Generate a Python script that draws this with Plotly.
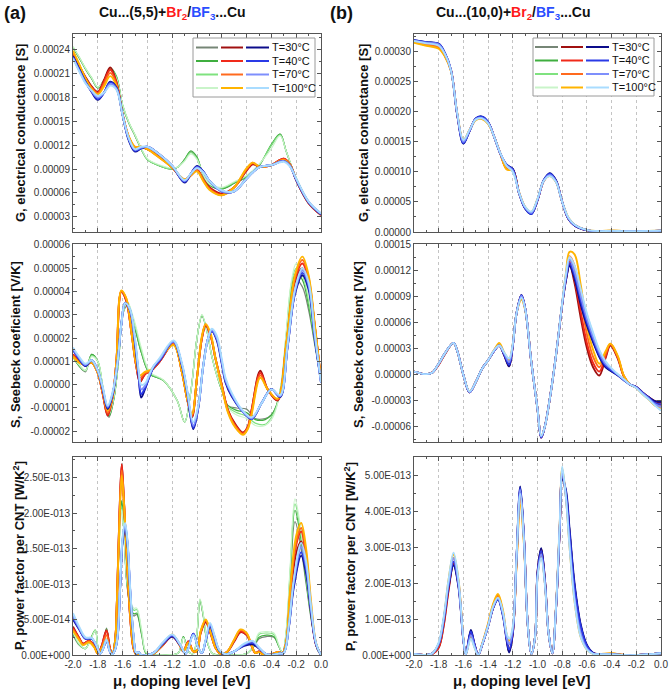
import plotly.graph_objects as go

# ---------------- common ----------------
TEMPS = ["T=30°C", "T=40°C", "T=70°C", "T=100°C"]
GREENS = ["#768676", "#3fae3f", "#7fe27f", "#c9f4c9"]
REDS = ["#a01010", "#f02a1a", "#ff6a1e", "#ffb400"]
BLUES = ["#0c0c8a", "#2a3ae6", "#7e8ffc", "#a9dcff"]

X_TICKS = [-2.0, -1.8, -1.6, -1.4, -1.2, -1.0, -0.8, -0.6, -0.4, -0.2, 0.0]
X_TICK_TEXT = ["-2.0", "-1.8", "-1.6", "-1.4", "-1.2", "-1.0", "-0.8", "-0.6", "-0.4", "-0.2", "0.0"]

# ---------------- panel (a): G, units 1e-5 S ----------------
aG_x = [-2.0,-1.95,-1.9,-1.85,-1.8,-1.75,-1.7,-1.65,-1.6,-1.55,-1.5,-1.45,-1.4,-1.3,-1.2,-1.1,-1.05,-1.0,-0.95,-0.9,-0.8,-0.7,-0.6,-0.55,-0.5,-0.45,-0.4,-0.3,-0.25,-0.2,-0.1,0.0]
aG_red = [
 [23.5,22.0,20.6,19.4,18.7,20.2,21.8,20.0,15.9,13.0,11.7,11.7,11.5,10.5,9.2,7.6,8.2,8.9,7.7,6.7,5.9,6.7,8.8,9.6,9.3,9.3,9.5,10.3,9.6,7.6,4.7,3.2],
 [23.6,22.0,20.5,19.3,18.6,20.0,21.5,19.9,15.9,13.0,11.7,11.7,11.5,10.5,9.2,7.6,8.2,8.9,7.7,6.6,5.8,6.7,8.9,9.7,9.3,9.3,9.5,10.3,9.6,7.6,4.7,3.2],
 [23.7,22.1,20.4,19.2,18.5,19.7,21.1,19.7,15.9,13.0,11.8,11.8,11.5,10.4,9.2,7.7,8.2,8.8,7.6,6.5,5.7,6.7,9.0,9.8,9.3,9.3,9.5,10.2,9.6,7.7,4.8,3.3],
 [23.9,22.2,20.4,19.1,18.4,19.4,20.7,19.5,15.9,13.1,11.8,11.8,11.5,10.4,9.2,7.7,8.2,8.7,7.5,6.4,5.7,6.7,9.1,9.8,9.3,9.3,9.5,10.1,9.5,7.7,4.8,3.3]]
aG_blue = [
 [23.2,21.6,20.0,18.7,17.7,18.6,20.0,19.3,15.8,12.6,11.2,11.6,11.8,10.8,9.4,7.3,8.4,9.4,8.7,7.5,6.2,6.2,7.8,8.6,9.2,9.4,9.5,10.0,9.4,7.6,4.8,3.3],
 [23.1,21.5,20.0,18.8,17.8,18.6,19.9,19.2,15.8,12.7,11.3,11.6,11.8,10.8,9.4,7.4,8.4,9.3,8.7,7.5,6.2,6.2,7.8,8.6,9.2,9.4,9.5,10.0,9.4,7.7,4.8,3.3],
 [23.0,21.4,19.9,18.8,18.0,18.6,19.7,19.1,15.8,12.8,11.4,11.7,11.8,10.8,9.4,7.5,8.4,9.2,8.6,7.5,6.2,6.2,7.8,8.6,9.2,9.4,9.5,10.0,9.4,7.7,4.9,3.4],
 [22.9,21.3,19.8,18.9,18.2,18.6,19.5,19.0,15.8,12.9,11.5,11.8,11.8,10.8,9.4,7.6,8.4,9.1,8.6,7.5,6.3,6.2,7.8,8.6,9.2,9.4,9.5,9.9,9.3,7.8,4.9,3.4]]
aG_gx = [-2.0,-1.95,-1.9,-1.85,-1.8,-1.75,-1.7,-1.65,-1.6,-1.55,-1.5,-1.45,-1.4,-1.3,-1.2,-1.15,-1.1,-1.05,-1.0,-0.95,-0.9,-0.8,-0.7,-0.6,-0.5,-0.4,-0.33,-0.28,-0.2,-0.1,0.0]
aG_green = [
 [24.3,23.0,21.6,20.4,19.2,20.2,21.6,20.6,17.0,14.8,13.2,11.5,10.2,9.4,9.0,9.3,10.2,11.2,10.4,8.2,7.0,6.5,7.2,8.0,9.4,12.0,13.4,11.2,7.8,4.8,3.3],
 [24.3,23.0,21.6,20.4,19.2,20.2,21.7,20.7,17.0,14.8,13.2,11.5,10.2,9.4,9.0,9.3,10.2,11.3,10.5,8.2,7.0,6.5,7.2,8.0,9.4,12.1,13.4,11.2,7.8,4.8,3.3],
 [24.4,23.1,21.7,20.5,19.3,20.2,21.6,20.6,17.1,14.9,13.3,11.6,10.2,9.4,9.0,9.3,10.1,11.1,10.3,8.3,7.1,6.6,7.3,8.1,9.5,12.0,13.3,11.2,7.9,4.9,3.4],
 [24.4,23.1,21.7,20.5,19.3,20.1,21.4,20.4,17.1,14.9,13.3,11.6,10.3,9.5,9.1,9.3,10.0,10.9,10.2,8.3,7.1,6.7,7.4,8.2,9.6,11.6,13.2,11.2,7.9,4.9,3.4]]

# ---------------- panel (a): S, units 1e-5 V/K ----------------
aS_rx = [-2.0,-1.95,-1.9,-1.85,-1.8,-1.76,-1.72,-1.68,-1.65,-1.61,-1.57,-1.53,-1.49,-1.46,-1.42,-1.37,-1.3,-1.19,-1.12,-1.08,-1.04,-1.0,-0.96,-0.93,-0.89,-0.85,-0.8,-0.75,-0.69,-0.63,-0.59,-0.56,-0.49,-0.43,-0.35,-0.28,-0.21,-0.15,-0.1,-0.05,0.0]
aS_red = [
 [1.3,1.0,0.85,0.95,0.5,-0.4,-1.33,-0.5,1.0,4.0,3.6,2.3,0.8,0.12,0.45,0.6,1.0,1.75,0.5,-0.6,-1.4,0.3,2.0,2.55,2.1,1.1,0.0,-1.1,-1.7,-2.05,-1.8,-1.1,0.6,-0.2,-0.68,1.7,4.4,5.0,4.4,2.5,0.2],
 [1.3,1.0,0.85,0.95,0.5,-0.4,-1.3,-0.5,1.0,4.0,3.6,2.3,0.8,0.15,0.45,0.6,1.0,1.75,0.5,-0.6,-1.35,0.3,2.0,2.55,2.1,1.1,0.0,-1.1,-1.75,-2.08,-1.8,-1.1,0.5,-0.2,-0.65,1.7,4.5,5.2,4.5,2.5,0.2],
 [1.25,0.95,0.85,0.95,0.5,-0.35,-1.2,-0.5,1.0,4.0,3.7,2.3,0.8,0.3,0.5,0.6,1.05,1.75,0.5,-0.6,-1.3,0.3,2.05,2.6,2.1,1.1,-0.05,-1.15,-1.8,-2.12,-1.85,-1.2,0.4,-0.2,-0.62,1.75,4.6,5.35,4.6,2.5,0.2],
 [1.2,0.95,0.85,0.95,0.5,-0.3,-1.1,-0.5,1.0,4.05,3.7,2.3,0.9,0.4,0.55,0.65,1.1,1.7,0.5,-0.6,-1.25,0.3,2.1,2.6,2.2,1.1,-0.1,-1.2,-1.85,-2.15,-1.9,-1.3,0.3,-0.2,-0.6,1.8,4.7,5.5,4.7,2.6,0.2]]
aS_bx = [-2.0,-1.95,-1.9,-1.85,-1.8,-1.76,-1.72,-1.68,-1.64,-1.61,-1.58,-1.54,-1.5,-1.47,-1.45,-1.42,-1.38,-1.35,-1.3,-1.19,-1.12,-1.08,-1.03,-0.99,-0.95,-0.91,-0.88,-0.84,-0.8,-0.77,-0.72,-0.64,-0.56,-0.48,-0.4,-0.33,-0.27,-0.21,-0.15,-0.1,-0.05,0.0]
aS_blue = [
 [1.5,1.1,0.8,1.05,0.6,-0.2,-1.05,-0.4,1.0,2.6,3.5,3.2,1.8,0.3,-0.55,-0.2,0.4,0.75,1.05,1.85,0.8,-0.3,-1.9,-1.0,0.8,2.0,2.3,1.9,0.9,0.1,-0.5,-1.1,-1.47,-0.8,-0.18,-0.53,1.6,3.9,4.7,4.1,2.0,0.1],
 [1.5,1.1,0.82,1.05,0.6,-0.2,-1.0,-0.4,1.0,2.6,3.5,3.2,1.85,0.4,-0.4,-0.15,0.4,0.75,1.05,1.85,0.8,-0.3,-1.85,-1.0,0.8,2.0,2.3,1.95,0.95,0.15,-0.45,-1.1,-1.47,-0.8,-0.2,-0.5,1.6,3.95,4.8,4.2,2.0,0.1],
 [1.55,1.15,0.85,1.05,0.6,-0.15,-0.95,-0.35,1.0,2.6,3.5,3.2,1.9,0.5,-0.2,-0.05,0.45,0.8,1.1,1.85,0.85,-0.25,-1.75,-0.95,0.8,2.0,2.35,2.0,1.0,0.2,-0.4,-1.1,-1.45,-0.8,-0.2,-0.5,1.65,4.0,4.9,4.3,2.1,0.1],
 [1.6,1.2,0.9,1.05,0.6,-0.1,-0.9,-0.3,1.0,2.6,3.5,3.25,2.0,0.6,0.0,0.05,0.5,0.8,1.15,1.9,0.9,-0.2,-1.6,-0.9,0.8,2.0,2.4,2.1,1.1,0.3,-0.35,-1.05,-1.4,-0.8,-0.2,-0.45,1.7,4.1,5.0,4.4,2.2,0.1]]
aS_gx = [-2.0,-1.95,-1.9,-1.85,-1.8,-1.76,-1.71,-1.67,-1.63,-1.6,-1.56,-1.52,-1.49,-1.45,-1.38,-1.27,-1.16,-1.1,-1.05,-1.0,-0.96,-0.92,-0.88,-0.84,-0.8,-0.75,-0.68,-0.6,-0.53,-0.45,-0.4,-0.36,-0.32,-0.28,-0.24,-0.2,-0.15,-0.1,-0.05,0.0]
aS_green = [
 [1.2,0.8,0.55,1.3,1.0,-0.1,-1.4,-0.6,1.2,3.0,3.4,2.6,2.2,1.4,0.46,0.18,-0.68,-1.6,-0.3,2.0,2.95,2.3,1.2,0.4,-0.25,-0.9,-1.0,-1.05,-1.45,-1.45,-1.3,-0.9,0.0,2.0,3.9,4.5,4.2,3.2,1.7,0.2],
 [1.2,0.8,0.6,1.3,1.0,-0.1,-1.35,-0.6,1.2,3.0,3.5,2.7,2.2,1.4,0.46,0.18,-0.68,-1.6,-0.3,2.0,2.95,2.3,1.2,0.4,-0.25,-0.9,-1.1,-1.2,-1.5,-1.5,-1.3,-0.9,0.0,2.1,4.1,4.8,4.5,3.4,1.8,0.2],
 [1.2,0.85,0.6,1.25,1.0,-0.05,-1.3,-0.55,1.2,3.0,3.55,2.9,2.35,1.5,0.5,0.18,-0.68,-1.6,-0.3,2.0,3.0,2.3,1.2,0.4,-0.2,-0.95,-1.2,-1.35,-1.65,-1.7,-1.4,-0.95,0.05,2.2,4.3,5.0,4.7,3.6,1.9,0.2],
 [1.2,0.85,0.6,1.2,1.0,-0.05,-1.25,-0.5,1.2,3.0,3.55,3.0,2.45,1.6,0.55,0.2,-0.68,-1.6,-0.3,2.0,3.0,2.3,1.2,0.4,-0.2,-1.0,-1.3,-1.45,-1.75,-1.75,-1.5,-1.0,0.1,2.3,4.4,5.2,4.8,3.8,2.0,0.2]]

# ---------------- panel (a): P, units 1e-14 W/K^2 ----------------
aP_rx = [-2.0,-1.95,-1.92,-1.87,-1.83,-1.8,-1.77,-1.73,-1.7,-1.68,-1.66,-1.645,-1.625,-1.607,-1.59,-1.567,-1.54,-1.513,-1.49,-1.45,-1.35,-1.28,-1.2,-1.14,-1.11,-1.07,-1.03,-1.0,-0.97,-0.93,-0.89,-0.85,-0.81,-0.76,-0.7,-0.65,-0.6,-0.56,-0.53,-0.5,-0.47,-0.42,-0.35,-0.31,-0.28,-0.25,-0.2,-0.16,-0.12,-0.08,-0.04,0.0]
aP_red = [
 [4.0,2.4,1.6,2.0,1.3,0.2,1.2,3.5,0.8,0.1,2.0,8.0,20.0,26.9,22.0,14.0,5.6,1.0,0.1,0.0,0.2,1.3,2.6,1.4,0.5,1.9,0.5,0.6,3.1,4.6,3.0,1.0,0.2,0.4,1.9,3.2,2.8,1.3,0.3,0.5,0.1,0.0,0.4,0.3,1.7,7.5,14.3,16.0,12.5,6.0,1.4,0.0],
 [3.8,2.4,1.6,2.0,1.3,0.2,1.2,3.4,0.8,0.1,2.0,8.0,20.0,26.8,22.0,14.0,5.6,1.0,0.1,0.0,0.2,1.3,2.7,1.4,0.5,1.9,0.5,0.6,3.2,4.8,3.0,1.0,0.2,0.4,2.0,3.3,2.9,1.3,0.3,0.5,0.1,0.0,0.4,0.3,1.8,8.0,15.5,17.4,13.5,6.5,1.5,0.0],
 [3.6,2.2,1.5,1.9,1.2,0.2,1.0,2.8,0.7,0.1,2.0,8.0,19.5,26.0,21.8,14.0,5.8,1.1,0.1,0.0,0.2,1.4,2.8,1.4,0.5,1.8,0.5,0.6,3.3,4.9,3.1,1.0,0.2,0.4,2.1,3.5,3.0,1.4,0.3,0.4,0.1,0.0,0.4,0.3,1.9,8.5,16.0,17.9,14.2,7.0,1.6,0.0],
 [3.4,2.1,1.4,1.8,1.1,0.2,0.9,2.2,0.6,0.1,2.0,7.8,19.0,25.3,21.6,14.2,6.0,1.2,0.1,0.0,0.2,1.4,2.9,1.4,0.5,1.7,0.5,0.6,3.4,5.0,3.2,1.0,0.2,0.4,2.2,3.6,3.1,1.4,0.3,0.4,0.1,0.0,0.4,0.3,2.0,9.0,16.8,18.6,15.0,7.5,1.7,0.0]]
aP_bx = [-2.0,-1.95,-1.9,-1.85,-1.81,-1.78,-1.755,-1.73,-1.705,-1.685,-1.66,-1.64,-1.62,-1.6,-1.58,-1.56,-1.54,-1.513,-1.49,-1.47,-1.45,-1.35,-1.28,-1.2,-1.14,-1.09,-1.03,-0.99,-0.96,-0.93,-0.895,-0.86,-0.82,-0.77,-0.7,-0.62,-0.55,-0.5,-0.45,-0.4,-0.34,-0.3,-0.26,-0.22,-0.16,-0.12,-0.08,-0.04,0.0]
aP_blue = [
 [5.0,3.6,2.3,2.3,1.2,0.2,1.0,2.0,0.6,0.0,0.8,2.6,9.4,16.0,18.0,15.5,9.4,2.8,0.2,0.4,0.0,0.3,1.5,2.6,1.5,0.2,3.0,1.0,0.3,2.0,4.0,2.5,0.6,0.1,0.5,1.3,1.5,0.9,0.2,0.0,0.2,0.3,3.8,9.5,14.0,11.5,6.0,1.5,0.0],
 [5.2,3.7,2.3,2.3,1.2,0.2,1.0,2.1,0.6,0.0,0.8,2.6,9.5,16.2,18.2,15.6,9.4,2.8,0.2,0.4,0.0,0.3,1.5,2.7,1.5,0.2,3.0,1.0,0.3,2.0,4.1,2.6,0.6,0.1,0.5,1.4,1.7,1.0,0.2,0.0,0.2,0.3,3.9,9.8,14.5,12.0,6.2,1.5,0.0],
 [5.5,3.8,2.4,2.4,1.3,0.2,1.0,2.1,0.6,0.0,0.8,2.7,9.6,16.4,18.4,15.8,9.6,2.9,0.2,0.4,0.0,0.3,1.6,2.8,1.6,0.2,2.9,1.0,0.3,2.1,4.3,2.7,0.7,0.1,0.5,1.5,1.9,1.0,0.2,0.0,0.2,0.3,4.0,10.2,15.2,12.6,6.5,1.6,0.0],
 [5.9,4.0,2.5,2.4,1.3,0.2,1.0,2.2,0.6,0.0,0.8,2.7,9.7,16.6,18.6,16.0,9.8,3.0,0.3,0.4,0.0,0.3,1.7,2.9,1.6,0.2,2.8,1.0,0.3,2.2,4.5,2.8,0.7,0.1,0.5,1.6,2.0,1.1,0.2,0.0,0.2,0.3,4.1,10.6,15.8,13.2,6.8,1.7,0.0]]
aP_gx = [-2.0,-1.95,-1.9,-1.86,-1.82,-1.79,-1.76,-1.73,-1.705,-1.685,-1.66,-1.645,-1.625,-1.607,-1.59,-1.567,-1.54,-1.51,-1.486,-1.446,-1.41,-1.35,-1.25,-1.15,-1.11,-1.07,-1.03,-1.0,-0.976,-0.95,-0.92,-0.88,-0.84,-0.7,-0.6,-0.54,-0.5,-0.44,-0.38,-0.34,-0.31,-0.28,-0.25,-0.21,-0.17,-0.12,-0.07,-0.03,0.0]
aP_green = [
 [2.8,1.4,0.9,2.2,3.4,0.6,1.0,3.8,1.2,0.1,2.5,8.0,17.0,21.6,17.5,10.3,7.0,5.5,5.7,2.8,0.2,0.0,0.0,0.3,2.6,0.5,0.2,3.0,7.6,5.5,2.0,0.3,0.0,0.0,0.2,1.2,2.3,2.6,2.5,1.2,0.3,3.0,10.0,18.8,16.0,10.0,4.0,0.8,0.0],
 [3.0,1.5,0.9,2.2,3.5,0.6,1.0,3.7,1.2,0.1,2.5,8.0,17.0,21.8,17.6,10.4,7.2,5.8,5.9,2.9,0.2,0.0,0.0,0.3,2.6,0.5,0.2,3.0,7.7,5.6,2.0,0.3,0.0,0.0,0.2,1.3,2.5,2.8,2.6,1.2,0.3,3.2,11.0,20.4,17.2,10.5,4.2,0.8,0.0],
 [3.2,1.5,0.9,2.1,3.5,0.6,1.0,3.6,1.2,0.1,2.5,7.8,16.5,21.0,17.4,10.6,7.6,6.3,6.4,3.2,0.3,0.0,0.0,0.3,2.5,0.5,0.2,3.1,7.8,5.7,2.1,0.3,0.0,0.0,0.2,1.4,2.9,3.1,2.9,1.3,0.3,3.4,11.5,21.3,18.0,11.0,4.4,0.9,0.0],
 [3.3,1.6,0.9,2.0,3.4,0.6,1.0,3.5,1.2,0.1,2.5,7.6,16.0,20.5,17.2,10.8,7.9,6.6,6.6,3.5,0.4,0.0,0.0,0.3,2.4,0.5,0.2,3.2,7.9,5.8,2.2,0.3,0.0,0.0,0.2,1.5,3.1,3.3,3.1,1.4,0.3,3.6,12.0,22.0,18.6,11.5,4.6,0.9,0.0]]

# ---------------- panel (b): G, units 1e-5 S ----------------
bG_x = [-2.0,-1.9,-1.8,-1.75,-1.7,-1.65,-1.6,-1.55,-1.5,-1.45,-1.4,-1.35,-1.3,-1.25,-1.2,-1.15,-1.1,-1.05,-1.0,-0.95,-0.9,-0.85,-0.8,-0.75,-0.7,-0.6,-0.5,-0.4,-0.3,-0.2,-0.1,0.0]
bG_blue = [
 [31.9,31.6,31.3,29.8,26.9,19.5,14.7,16.8,18.9,19.2,18.3,15.8,13.0,11.2,10.5,6.5,3.9,3.0,5.3,8.6,9.8,8.6,5.0,2.2,1.1,0.3,0.1,0.15,0.1,0.12,0.15,0.2],
 [31.9,31.6,31.3,29.8,26.9,19.6,14.8,16.8,18.9,19.2,18.3,15.8,13.0,11.2,10.4,6.5,3.9,3.0,5.3,8.6,9.7,8.5,5.0,2.2,1.1,0.3,0.1,0.15,0.1,0.12,0.15,0.2],
 [31.8,31.5,31.2,29.7,26.9,19.7,15.0,16.9,18.8,19.0,18.2,15.8,13.0,11.1,10.2,6.6,4.1,3.2,5.4,8.5,9.5,8.4,5.0,2.3,1.2,0.3,0.12,0.18,0.12,0.14,0.16,0.22],
 [31.8,31.4,31.0,29.6,26.8,19.8,15.3,17.0,18.7,18.9,18.1,15.8,13.1,11.0,10.0,6.6,4.2,3.4,5.5,8.5,9.3,8.3,5.0,2.4,1.2,0.35,0.15,0.2,0.15,0.15,0.18,0.25]]
bG_red = [
 [31.8,31.4,31.0,29.5,26.9,19.6,15.0,16.9,18.8,19.0,18.2,15.8,13.0,10.6,10.4,6.5,4.0,3.1,5.3,8.5,9.6,8.5,5.0,2.2,1.1,0.3,0.1,0.15,0.1,0.12,0.15,0.2],
 [31.7,31.3,30.9,29.4,26.9,19.6,15.0,16.9,18.8,19.0,18.2,15.8,13.0,10.6,10.4,6.5,4.0,3.1,5.3,8.5,9.5,8.5,5.0,2.2,1.1,0.3,0.1,0.16,0.12,0.13,0.15,0.2],
 [31.6,31.1,30.7,29.3,26.8,19.7,15.1,16.9,18.7,18.9,18.1,15.8,13.0,10.5,10.3,6.6,4.1,3.2,5.4,8.5,9.4,8.4,5.0,2.3,1.2,0.3,0.12,0.2,0.15,0.15,0.16,0.22],
 [31.5,31.0,30.5,29.2,26.7,19.8,15.3,17.0,18.6,18.8,18.0,15.8,13.0,10.4,10.2,6.7,4.2,3.3,5.5,8.5,9.3,8.3,5.0,2.4,1.2,0.35,0.15,0.25,0.18,0.16,0.18,0.25]]
bG_green = bG_blue  # coincides with the blue set (hidden beneath it)

# ---------------- panel (b): S, units 1e-5 V/K ----------------
bS_x = [-2.0,-1.9,-1.85,-1.8,-1.75,-1.68,-1.65,-1.6,-1.55,-1.5,-1.45,-1.4,-1.35,-1.31,-1.27,-1.23,-1.2,-1.17,-1.13,-1.1,-1.05,-1.0,-0.97,-0.94,-0.9,-0.85,-0.8,-0.77,-0.74,-0.7,-0.65,-0.6,-0.55,-0.5,-0.45,-0.41,-0.35,-0.3,-0.25,-0.2,-0.15,-0.1,-0.05,0.0]
bS_blue = [
 [0.3,0.0,0.2,1.2,2.4,3.6,2.7,-0.1,-2.1,-0.9,0.6,1.6,2.7,3.3,2.2,0.9,3.3,7.0,9.1,7.6,1.4,-4.0,-7.3,-6.0,-2.8,2.2,8.0,10.8,12.5,11.0,8.0,5.6,3.7,2.0,0.8,0.4,-0.15,-0.7,-1.2,-1.5,-2.1,-2.65,-3.1,-3.2],
 [0.3,0.0,0.2,1.2,2.4,3.6,2.7,-0.1,-2.1,-0.9,0.6,1.6,2.7,3.3,2.3,1.1,3.3,7.0,9.1,7.6,1.4,-4.0,-7.3,-6.0,-2.8,2.2,8.1,11.0,12.8,11.4,8.5,6.0,4.0,2.2,1.0,0.5,-0.1,-0.7,-1.2,-1.5,-2.15,-2.7,-3.3,-3.5],
 [0.3,0.0,0.2,1.2,2.4,3.6,2.7,-0.1,-2.1,-0.9,0.6,1.6,2.7,3.3,2.4,1.4,3.4,7.0,9.0,7.6,1.4,-4.0,-7.2,-6.0,-2.8,2.2,8.1,11.2,13.2,11.8,9.0,6.4,4.3,2.5,1.2,0.7,-0.05,-0.65,-1.2,-1.55,-2.2,-2.8,-3.45,-3.8],
 [0.3,0.0,0.2,1.2,2.4,3.6,2.7,-0.1,-2.0,-0.9,0.6,1.6,2.8,3.3,2.5,1.8,3.5,7.0,8.8,7.5,1.4,-4.0,-7.1,-6.0,-2.8,2.2,8.2,11.5,13.5,12.5,9.8,7.0,4.8,2.8,1.5,0.8,0.0,-0.6,-1.2,-1.6,-2.3,-2.9,-3.6,-4.2]]
bS_red = [
 [0.3,0.0,0.2,1.1,2.3,3.6,2.7,-0.1,-2.1,-0.9,0.6,1.6,2.7,3.3,2.2,0.9,3.3,7.0,9.1,7.6,1.4,-4.0,-7.3,-6.0,-2.8,2.2,8.0,10.8,12.6,10.5,6.5,3.0,0.8,-0.15,1.8,3.3,1.8,-0.3,-1.2,-1.5,-2.1,-2.65,-3.1,-3.3],
 [0.3,0.0,0.2,1.1,2.3,3.6,2.7,-0.1,-2.1,-0.9,0.6,1.6,2.7,3.3,2.3,1.1,3.3,7.0,9.0,7.6,1.4,-4.0,-7.3,-6.0,-2.8,2.2,8.0,11.0,13.0,11.0,7.2,3.6,1.3,0.3,2.0,3.4,1.9,-0.25,-1.2,-1.5,-2.15,-2.7,-3.3,-3.5],
 [0.3,0.0,0.2,1.2,2.4,3.6,2.7,-0.1,-2.1,-0.9,0.6,1.6,2.8,3.4,2.4,1.4,3.4,7.0,8.8,7.5,1.4,-4.0,-7.2,-6.0,-2.8,2.2,8.1,11.3,13.6,12.5,8.8,4.6,2.0,0.8,2.3,3.5,2.0,-0.2,-1.2,-1.55,-2.2,-2.8,-3.5,-3.7],
 [0.3,0.0,0.2,1.2,2.4,3.6,2.7,-0.1,-2.0,-0.9,0.6,1.6,2.8,3.6,2.5,1.7,3.5,7.0,8.6,7.4,1.4,-4.0,-7.1,-6.0,-2.8,2.2,8.2,11.6,14.1,13.8,10.3,5.6,2.8,1.2,2.6,3.5,2.1,-0.2,-1.2,-1.6,-2.3,-2.9,-3.6,-3.9]]
bS_green = bS_blue

# ---------------- panel (b): P, units 1e-13 W/K^2 ----------------
bP_x = [-2.0,-1.9,-1.85,-1.8,-1.76,-1.72,-1.68,-1.64,-1.6,-1.58,-1.54,-1.51,-1.48,-1.45,-1.4,-1.36,-1.32,-1.28,-1.25,-1.23,-1.2,-1.17,-1.14,-1.11,-1.08,-1.05,-1.02,-1.0,-0.97,-0.94,-0.91,-0.88,-0.85,-0.82,-0.8,-0.77,-0.74,-0.7,-0.65,-0.6,-0.55,-0.5,-0.4,-0.3,-0.2,-0.1,0.0]
bP_blue = [
 [0.03,0.0,0.05,0.3,0.95,1.9,2.5,1.9,0.4,0.02,0.7,0.3,0.0,0.26,0.8,1.3,1.55,1.1,0.4,0.07,0.6,2.7,4.7,3.3,0.9,0.03,0.5,2.3,2.98,2.1,0.6,0.05,1.3,3.5,4.9,4.6,3.5,2.0,0.85,0.28,0.06,0.02,0.02,0.0,0.0,0.02,0.05],
 [0.03,0.0,0.05,0.3,0.95,1.95,2.6,1.95,0.4,0.02,0.65,0.3,0.0,0.26,0.8,1.3,1.55,1.1,0.45,0.15,0.65,2.7,4.65,3.3,0.9,0.03,0.5,2.25,2.9,2.05,0.6,0.05,1.3,3.5,5.0,4.55,3.4,1.9,0.8,0.25,0.05,0.02,0.02,0.0,0.0,0.02,0.05],
 [0.03,0.0,0.05,0.32,1.0,2.0,2.7,2.0,0.42,0.02,0.55,0.25,0.0,0.27,0.8,1.32,1.58,1.15,0.5,0.3,0.7,2.7,4.6,3.25,0.9,0.03,0.5,2.2,2.8,2.0,0.6,0.05,1.3,3.6,5.1,4.4,3.1,1.6,0.6,0.18,0.04,0.02,0.02,0.0,0.0,0.02,0.05],
 [0.03,0.0,0.05,0.35,1.05,2.1,2.85,2.1,0.45,0.02,0.45,0.2,0.0,0.28,0.82,1.35,1.6,1.2,0.6,0.45,0.8,2.7,4.5,3.2,0.9,0.03,0.5,2.15,2.7,1.95,0.6,0.05,1.35,3.7,5.25,4.4,3.0,1.5,0.5,0.15,0.03,0.02,0.02,0.0,0.0,0.02,0.05]]
bP_red = [
 [0.03,0.0,0.03,0.2,0.8,1.8,2.55,1.95,0.42,0.02,0.65,0.3,0.0,0.26,0.8,1.3,1.6,1.15,0.45,0.1,0.6,2.65,4.6,3.3,0.9,0.03,0.5,2.3,2.95,2.1,0.6,0.05,1.3,3.5,4.95,4.5,3.4,1.9,0.8,0.25,0.05,0.02,0.02,0.0,0.0,0.02,0.05],
 [0.03,0.0,0.03,0.22,0.85,1.85,2.6,2.0,0.42,0.02,0.6,0.28,0.0,0.27,0.82,1.33,1.62,1.15,0.47,0.15,0.62,2.6,4.5,3.25,0.9,0.03,0.5,2.25,2.9,2.05,0.6,0.05,1.3,3.55,5.05,4.5,3.3,1.8,0.75,0.22,0.05,0.02,0.03,0.0,0.0,0.02,0.05],
 [0.03,0.0,0.04,0.28,0.95,2.0,2.7,2.05,0.43,0.02,0.55,0.25,0.0,0.28,0.85,1.38,1.66,1.2,0.52,0.3,0.7,2.55,4.35,3.2,0.9,0.03,0.5,2.2,2.85,2.0,0.6,0.05,1.32,3.6,5.12,4.45,3.2,1.65,0.6,0.18,0.04,0.02,0.04,0.0,0.0,0.02,0.05],
 [0.03,0.0,0.05,0.32,1.0,2.1,2.8,2.1,0.45,0.02,0.5,0.22,0.0,0.3,0.88,1.42,1.7,1.25,0.58,0.4,0.75,2.5,4.2,3.1,0.9,0.03,0.5,2.2,2.8,2.0,0.6,0.05,1.35,3.65,5.2,4.4,3.0,1.5,0.5,0.15,0.03,0.02,0.05,0.0,0.0,0.02,0.05]]
bP_green = bP_blue

# ---------------- tick labels ----------------
aG_ticks = [3e-5, 6e-5, 9e-5, 12e-5, 15e-5, 18e-5, 21e-5, 24e-5]
aG_ticktext = ["0.00003", "0.00006", "0.00009", "0.00012", "0.00015", "0.00018", "0.00021", "0.00024"]
aS_ticks = [-2e-5, -1e-5, 0, 1e-5, 2e-5, 3e-5, 4e-5, 5e-5, 6e-5]
aS_ticktext = ["-0.00002", "-0.00001", "0.00000", "0.00001", "0.00002", "0.00003", "0.00004", "0.00005", "0.00006"]
aP_ticks = [0, 0.5e-13, 1.0e-13, 1.5e-13, 2.0e-13, 2.5e-13]
aP_ticktext = ["0.00E+000", "5.00E-014", "1.00E-013", "1.50E-013", "2.00E-013", "2.50E-013"]
bG_ticks = [0, 5e-5, 10e-5, 15e-5, 20e-5, 25e-5, 30e-5]
bG_ticktext = ["0.00000", "0.00005", "0.00010", "0.00015", "0.00020", "0.00025", "0.00030"]
bS_ticks = [-6e-5, -3e-5, 0, 3e-5, 6e-5, 9e-5, 12e-5, 15e-5]
bS_ticktext = ["-0.00006", "-0.00003", "0.00000", "0.00003", "0.00006", "0.00009", "0.00012", "0.00015"]
bP_ticks = [0, 1e-13, 2e-13, 3e-13, 4e-13, 5e-13]
bP_ticktext = ["0.00E+000", "1.00E-013", "2.00E-013", "3.00E-013", "4.00E-013", "5.00E-013"]

Y_TITLES = ["<b>G, electrical conductance [S]</b>", "<b>S, Seebeck coeficient [V/K]</b>",
            "<b>P, power factor per CNT [W/K<sup>2</sup>]</b>"]
X_TITLE = "<b>μ, doping level [eV]</b>"

# ---------------- figure ----------------
W, H = 670, 692
fig = go.Figure()

def axid(i, letter):
    return letter if i == 1 else f"{letter}{i}"

def add_family(i, xs, ys_list, colors, width, unit):
    for ys, c in zip(ys_list, colors):
        fig.add_trace(go.Scatter(
            x=xs, y=[v * unit for v in ys], mode="lines",
            line=dict(color=c, width=width, shape="spline", smoothing=1.0),
            xaxis=axid(i, "x"), yaxis=axid(i, "y"),
            showlegend=False, hoverinfo="skip"))

panels = [
    (1, (aG_gx, aG_green), (aG_x, aG_red), (aG_x, aG_blue), 1e-5),
    (2, (aS_gx, aS_green), (aS_rx, aS_red), (aS_bx, aS_blue), 1e-5),
    (3, (aP_gx, aP_green), (aP_rx, aP_red), (aP_bx, aP_blue), 1e-14),
    (4, (bG_x, bG_green), (bG_x, bG_red), (bG_x, bG_blue), 1e-5),
    (5, (bS_x, bS_green), (bS_x, bS_red), (bS_x, bS_blue), 1e-5),
    (6, (bP_x, bP_green), (bP_x, bP_red), (bP_x, bP_blue), 1e-13),
]
for i, g, r, b, unit in panels:
    add_family(i, g[0], g[1], GREENS, 1.2, unit)
    add_family(i, r[0], r[1], REDS, 1.9, unit)
    add_family(i, b[0], b[1], BLUES, 1.9, unit)

def px(x):
    return x / W

def py(y):
    return 1 - y / H

XDOM = {"a": [px(73), px(321)], "b": [px(414), px(661)]}
YDOM = [[py(232), py(34)], [py(442), py(244)], [py(655), py(457)]]

FAM = "Liberation Sans, Arial, sans-serif"
AX_COLOR = "#555555"
TICK_FONT = dict(family=FAM, size=10, color="#333333")

yspecs = [
    (1, "a", 0, [1.07e-5, 26.0e-5], aG_ticks, aG_ticktext, 1.5e-5),
    (2, "a", 1, [-2.46e-5, 6.04e-5], aS_ticks, aS_ticktext, 0.5e-5),
    (3, "a", 2, [0, 2.79e-13], aP_ticks, aP_ticktext, 0.25e-13),
    (4, "b", 0, [0, 32.95e-5], bG_ticks, bG_ticktext, 2.5e-5),
    (5, "b", 1, [-7.82e-5, 15.0e-5], bS_ticks, bS_ticktext, 1.5e-5),
    (6, "b", 2, [0, 5.52e-13], bP_ticks, bP_ticktext, 0.5e-13),
]

x_minor = [-1.9 + 0.2 * k for k in range(10)]
layout = {}
for i, col, row, yr, tv, tt, mstep in yspecs:
    bottom = row == 2
    layout[f"xaxis{i}"] = dict(
        domain=XDOM[col], anchor=axid(i, "y"), range=[-2.0, 0.0],
        tickmode="array", tickvals=X_TICKS, ticktext=X_TICK_TEXT,
        showticklabels=bottom, ticks="inside", ticklen=4, tickcolor=AX_COLOR,
        showline=True, linecolor=AX_COLOR, linewidth=1, mirror="ticks",
        showgrid=True, gridcolor="#c4c4c4", griddash="dot", gridwidth=1,
        zeroline=False, tickfont=TICK_FONT,
        minor=dict(tickmode="array", tickvals=x_minor, ticks="inside", ticklen=2, tickcolor=AX_COLOR, showgrid=False),
    )
    n0 = int(round(yr[0] / mstep)) - 1
    n1 = int(round(yr[1] / mstep)) + 1
    minors = [k * mstep for k in range(n0, n1 + 1) if yr[0] <= k * mstep <= yr[1]]
    layout[f"yaxis{i}"] = dict(
        domain=YDOM[row], anchor=axid(i, "x"), range=yr,
        tickmode="array", tickvals=tv, ticktext=tt,
        ticks="inside", ticklen=4, tickcolor=AX_COLOR,
        showline=True, linecolor=AX_COLOR, linewidth=1, mirror="ticks",
        showgrid=False, zeroline=False, tickfont=TICK_FONT,
        minor=dict(tickmode="array", tickvals=minors, ticks="inside", ticklen=2, tickcolor=AX_COLOR),
    )
layout["xaxis"] = layout.pop("xaxis1")
layout["yaxis"] = layout.pop("yaxis1")

shapes, annotations = [], []

# axis titles (placed as rotated annotations)
ytitle_pos = [  # (x px, y px center, text index)
    (20, 133, 0), (15, 345, 1), (19, 556, 2),
    (363, 133, 0), (358, 345, 1), (350, 556, 2),
]
for xx, yy, k in ytitle_pos:
    annotations.append(dict(text=Y_TITLES[k], xref="paper", yref="paper", x=px(xx), y=py(yy),
                            xanchor="center", yanchor="middle", textangle=-90, showarrow=False,
                            font=dict(family=FAM, size=13, color="#111")))
for xx in (182, 522):
    annotations.append(dict(text=X_TITLE, xref="paper", yref="paper", x=px(xx), y=py(680),
                            xanchor="center", yanchor="middle", showarrow=False,
                            font=dict(family=FAM, size=15, color="#111")))

# ---------------- custom legends (3 swatches per row) ----------------
def legend(box, cols, text_x, rows):
    x0, y0, x1, y1 = box
    shapes.append(dict(type="rect", xref="paper", yref="paper", x0=px(x0), x1=px(x1), y0=py(y1), y1=py(y0),
                       line=dict(color="#9a9a9a", width=1), fillcolor="white", layer="above"))
    for r, yy in enumerate(rows):
        for c, (xa, xb) in enumerate(cols):
            color = (GREENS, REDS, BLUES)[c][r]
            shapes.append(dict(type="line", xref="paper", yref="paper", x0=px(xa), x1=px(xb), y0=py(yy), y1=py(yy),
                               line=dict(color=color, width=2), layer="above"))
        annotations.append(dict(text=TEMPS[r], xref="paper", yref="paper", x=px(text_x), y=py(yy),
                                xanchor="left", yanchor="middle", showarrow=False,
                                font=dict(family=FAM, size=11, color="#111")))

legend((193, 38, 315, 97), [(196, 218), (221, 243), (246, 269)], 270, [47.5, 61, 74.5, 88])
legend((533, 38, 654, 96), [(535, 558), (561, 583), (586, 609)], 610, [47, 60.5, 74, 87.5])

# ---------------- titles ----------------
TFONT = dict(family=FAM, size=14, color="#111")
annotations.append(dict(text="<b>(a)</b>", xref="paper", yref="paper", x=px(2), y=py(13), xanchor="left",
                        yanchor="middle", showarrow=False, font=dict(TFONT, size=18)))
annotations.append(dict(text="<b>(b)</b>", xref="paper", yref="paper", x=px(328), y=py(13), xanchor="left",
                        yanchor="middle", showarrow=False, font=dict(TFONT, size=18)))
annotations.append(dict(
    text="<b>Cu...(5,5)+<span style='color:#ff1a1a'>Br<sub>2</sub></span>/<span style='color:#2a4dff'>BF<sub>3</sub></span>...Cu</b>",
    xref="paper", yref="paper", x=px(172), y=py(13), xanchor="center", yanchor="middle", showarrow=False, font=TFONT))
annotations.append(dict(
    text="<b>Cu...(10,0)+<span style='color:#ff1a1a'>Br<sub>2</sub></span>/<span style='color:#2a4dff'>BF<sub>3</sub></span>...Cu</b>",
    xref="paper", yref="paper", x=px(513), y=py(13), xanchor="center", yanchor="middle", showarrow=False, font=TFONT))

fig.update_layout(
    width=W, height=H, margin=dict(l=0, r=0, t=0, b=0),
    paper_bgcolor="white", plot_bgcolor="white", template="none",
    font=dict(family=FAM, color="#222"),
    showlegend=False, shapes=shapes, annotations=annotations, **layout)

fig.write_html("out.html", config={"displayModeBar": False},
               post_script="document.body.style.margin='0px';")
